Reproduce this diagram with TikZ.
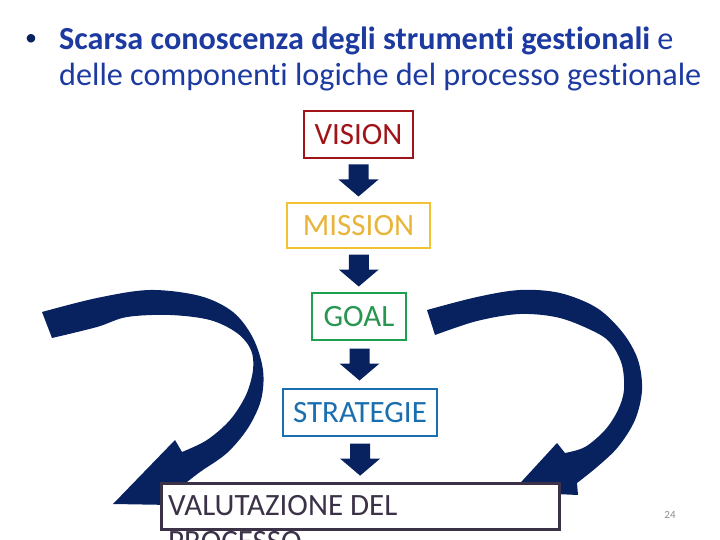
\documentclass[tikz,border=0pt]{standalone}
\usepackage{fontspec}
\setmainfont{Carlito}[Ligatures=NoCommon]
\usetikzlibrary{calc}
\definecolor{navy}{RGB}{8,34,96}
\definecolor{titleblue}{RGB}{28,58,160}
\definecolor{visred}{RGB}{160,20,25}
\definecolor{misyel}{RGB}{242,194,50}
\definecolor{misyeltxt}{RGB}{232,180,58}
\definecolor{goalgreen}{RGB}{30,160,80}
\definecolor{goalgreentxt}{RGB}{40,150,80}
\definecolor{stratblue}{RGB}{25,110,175}
\definecolor{valgray}{RGB}{60,50,72}
\definecolor{pagegray}{RGB}{140,140,140}
\tikzset{
  stagebox/.style={draw, line width=2.5pt, fill=white, inner sep=0pt,
    font=\fontsize{31}{37}\selectfont},
  titletext/.style={anchor=base west, inner sep=0pt, text=titleblue,
    font=\fontsize{32.2}{36}\selectfont},
}
\begin{document}
\begin{tikzpicture}[x=1pt,y=-1pt]
\useasboundingbox (0,0) rectangle (720,540);
\clip (0,0) rectangle (720,540);

% title
\node[inner sep=0pt, text=navy, font=\fontsize{24}{28}\selectfont] (bullet) at (31,40) {•};
\node[titletext] (title1) at (59,50) {\textbf{Scarsa conoscenza degli strumenti gestionali} e};
\node[titletext] (title2) at (59,86) {delle componenti logiche del processo gestionale};

% curved arrows
\fill[navy] plot[smooth, tension=0.55] coordinates {(42,312) (97,298) (150,290) (200,296) (233,312) (253,338) (263,370) (261,400) (248,428) (227,453) (200,472) (182,486)}
  -- (172,505) -- (113,504) -- (175,440) -- (182,452)
  -- plot[smooth, tension=0.55] coordinates {(182,452) (207,440) (230,420) (246,395) (253,370) (251,350) (237,333) (210,320) (170,315) (127,317) (97,327) (52,338)}
  -- cycle;
\fill[navy] plot[smooth, tension=0.55] coordinates {(427,310) (477,297) (520,290) (560,293) (597,308) (623,333) (638,360) (642,390) (635,420) (618,447) (597,467) (577,483)}
  -- (578,495) -- (512,492) -- (557,443) -- (565,453)
  -- plot[smooth, tension=0.55] coordinates {(565,453) (585,447) (605,430) (618,410) (624,390) (622,365) (612,345) (597,333) (560,318) (520,314) (477,321) (435,335)}
  -- cycle;

% stage boxes
\node[stagebox, draw=visred, text=visred, minimum width=109pt, minimum height=47pt] (vision) at (358.5,134.5) {VISION};
\node[stagebox, draw=misyel, text=misyeltxt, minimum width=143pt, minimum height=45pt] (mission) at (358.5,225.5) {MISSION};
\node[stagebox, draw=goalgreen, text=goalgreentxt, minimum width=94pt, minimum height=47pt] (goal) at (359,316.5) {GOAL};
\node[stagebox, draw=stratblue, text=stratblue, minimum width=154pt, minimum height=47pt] (strategie) at (360,412.5) {STRATEGIE};
\node[stagebox, draw=valgray, minimum width=398pt, minimum height=46pt, anchor=north west] (valut) at (160,482) {};
\node[anchor=north west, inner sep=0pt, align=left, text=valgray, font=\fontsize{31}{36}\selectfont] (valtext) at (168,495.5) {VALUTAZIONE DEL\\PROCESSO};

% block arrows between boxes
\foreach \a/\b in {vision/mission, mission/goal, goal/strategie, strategie/valut} {
  \coordinate (mid) at ($(\a.south)!0.5!(\b.north)$);
  \fill[navy] ($(mid)+(-10,-16)$) -- ($(mid)+(10,-16)$) -- ($(mid)+(10,-1)$) -- ($(mid)+(20,-1)$)
    -- ($(mid)+(0,16)$) -- ($(mid)+(-20,-1)$) -- ($(mid)+(-10,-1)$) -- cycle;
}

% page number
\node[inner sep=0pt, text=pagegray, font=\fontsize{11}{13}\selectfont] (pagenum) at (670,515) {24};
\end{tikzpicture}
\end{document}
